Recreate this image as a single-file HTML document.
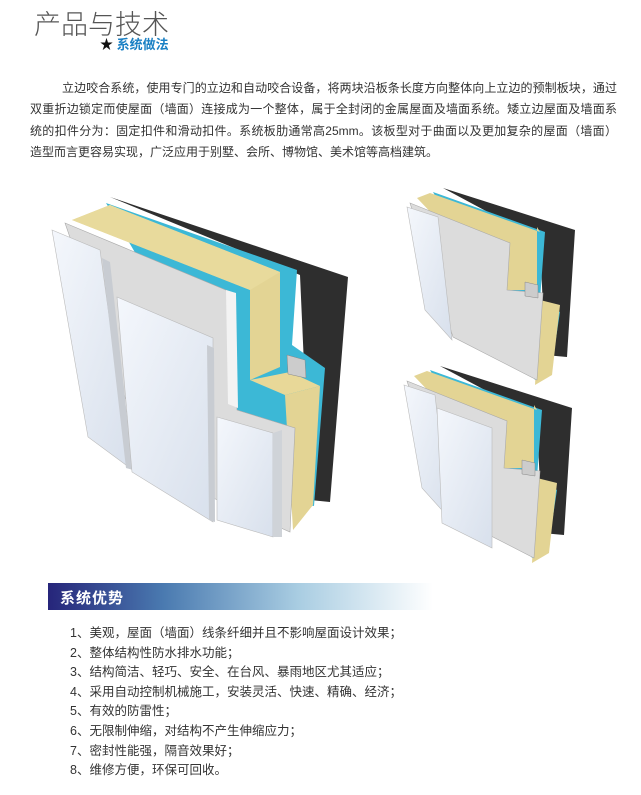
<!DOCTYPE html>
<html><head><meta charset="utf-8"><style>
body{margin:0;width:641px;height:795px;background:#fff;position:relative;overflow:hidden;font-family:"Liberation Sans","Noto Sans CJK SC",sans-serif;color:#333}
.t{position:absolute;left:34px;top:3px;font-size:27px;font-weight:300;color:#555;letter-spacing:0px}
.s{position:absolute;left:100px;top:34px;font-size:13px;font-weight:bold;color:#1a80c4}
.s b{color:#111}
.p{position:absolute;left:30px;top:78px;width:587px;font-size:12px;line-height:21.3px;color:#333}
.p div{text-align:justify;text-align-last:justify;white-space:nowrap;overflow:hidden}
.p div.last{text-align-last:left}
.ban{position:absolute;left:48px;top:583px;width:385px;height:27px;background:linear-gradient(90deg,#26257a 0%,#4a7ab0 30%,#a9cde2 65%,#fff 100%)}
.ban span{position:absolute;left:12px;top:4px;color:#fff;font-weight:bold;font-size:15px;letter-spacing:1px}
.l{position:absolute;left:70px;top:624px;font-size:12.5px;line-height:19.6px;color:#333}
svg{position:absolute;left:0;top:0}
</style></head><body>
<div class="t">产品与技术</div>
<div class="s"><b>★</b> 系统做法</div>
<div class="p">
<div style="padding-left:32px">立边咬合系统，使用专门的立边和自动咬合设备，将两块沿板条长度方向整体向上立边的预制板块，通过</div>
<div>双重折边锁定而使屋面（墙面）连接成为一个整体，属于全封闭的金属屋面及墙面系统。矮立边屋面及墙面系</div>
<div>统的扣件分为：固定扣件和滑动扣件。系统板肋通常高25mm。该板型对于曲面以及更加复杂的屋面（墙面）</div>
<div class="last">造型而言更容易实现，广泛应用于别墅、会所、博物馆、美术馆等高档建筑。</div>
</div>
<svg width="641" height="795">
<defs>
<linearGradient id="w" x1="0" y1="0" x2="1" y2="1"><stop offset="0" stop-color="#f4f7fc"/><stop offset="1" stop-color="#d8e0ec"/></linearGradient>
<g id="small">
<polygon points="443,188 575,230 567,357 545,355 540,240" fill="#2e2e2e"/>
<polygon points="433,192 545,232 540,300 560,312 552,365 535,380" fill="#3cb8d6"/>
<polygon points="417,198 430,193 540,232 537,227 537,290 505,290" fill="#e3d494"/>
<polygon points="540,300 560,305 552,375 535,385" fill="#e3d494"/>
<polygon points="410,203 510,243 507,290 543,293 537,380 453,337" fill="#dcdcdc" stroke="#aaa" stroke-width="0.6"/>
<polygon points="525,282 538,285 538,298 525,296" fill="#ccc" stroke="#888" stroke-width="0.5"/>
</g>
</defs>
<polygon points="110,197 348,277 330,502 310,500 300,275" fill="#2e2e2e"/>
<polygon points="106,203 297,270 292,345 325,368 314,506 280,500" fill="#3cb8d6"/>
<polygon points="72,220 110,205 280,272 280,367 250,380 250,290" fill="#e3d494"/>
<polygon points="110,205 280,272 250,290 72,220" fill="#e8da9c"/>
<polygon points="285,395 320,386 313,505 293,530" fill="#e3d494"/>
<polygon points="250,380 290,372 320,386 285,395" fill="#e8d898"/>
<polygon points="65,223 233,293 237,410 295,428 290,532 150,470" fill="#dcdcdc" stroke="#aaa" stroke-width="0.6"/>
<polygon points="226,290 236,293 238,408 228,404" fill="#f3f3f3"/>
<polygon points="287,355 305,360 306,378 288,374" fill="#ccc" stroke="#888" stroke-width="0.5"/>
<polygon points="52,230 100,250 130,468 88,437" fill="url(#w)" stroke="#bbb" stroke-width="0.6"/>
<polygon points="102,258 110,262 133,470 126,468" fill="#c8ccd2"/>
<polygon points="117,297 213,338 213,522 132,472" fill="url(#w)" stroke="#bbb" stroke-width="0.6"/>
<polygon points="207,345 214,348 215,522 209,520" fill="#c8ccd2"/>
<polygon points="217,417 273,433 273,537 217,520" fill="url(#w)" stroke="#bbb" stroke-width="0.6"/>
<polygon points="273,433 282,430 282,537 273,537" fill="#cfd3d8"/>
<use href="#small"/>
<polygon points="407,207 438,217 452,340 425,310" fill="url(#w)" stroke="#bbb" stroke-width="0.6"/>
<g transform="translate(-3,178)">
<use href="#small"/>
<polygon points="407,207 438,217 452,340 425,310" fill="url(#w)" stroke="#bbb" stroke-width="0.6"/>
<polygon points="440,230 495,250 495,370 445,345" fill="url(#w)" stroke="#bbb" stroke-width="0.6"/>
</g>
</svg>
<div class="ban"><span>系统优势</span></div>
<div class="l">1、美观，屋面（墙面）线条纤细并且不影响屋面设计效果；<br>2、整体结构性防水排水功能；<br>3、结构简洁、轻巧、安全、在台风、暴雨地区尤其适应；<br>4、采用自动控制机械施工，安装灵活、快速、精确、经济；<br>5、有效的防雷性；<br>6、无限制伸缩，对结构不产生伸缩应力；<br>7、密封性能强，隔音效果好；<br>8、维修方便，环保可回收。</div>
</body></html>
